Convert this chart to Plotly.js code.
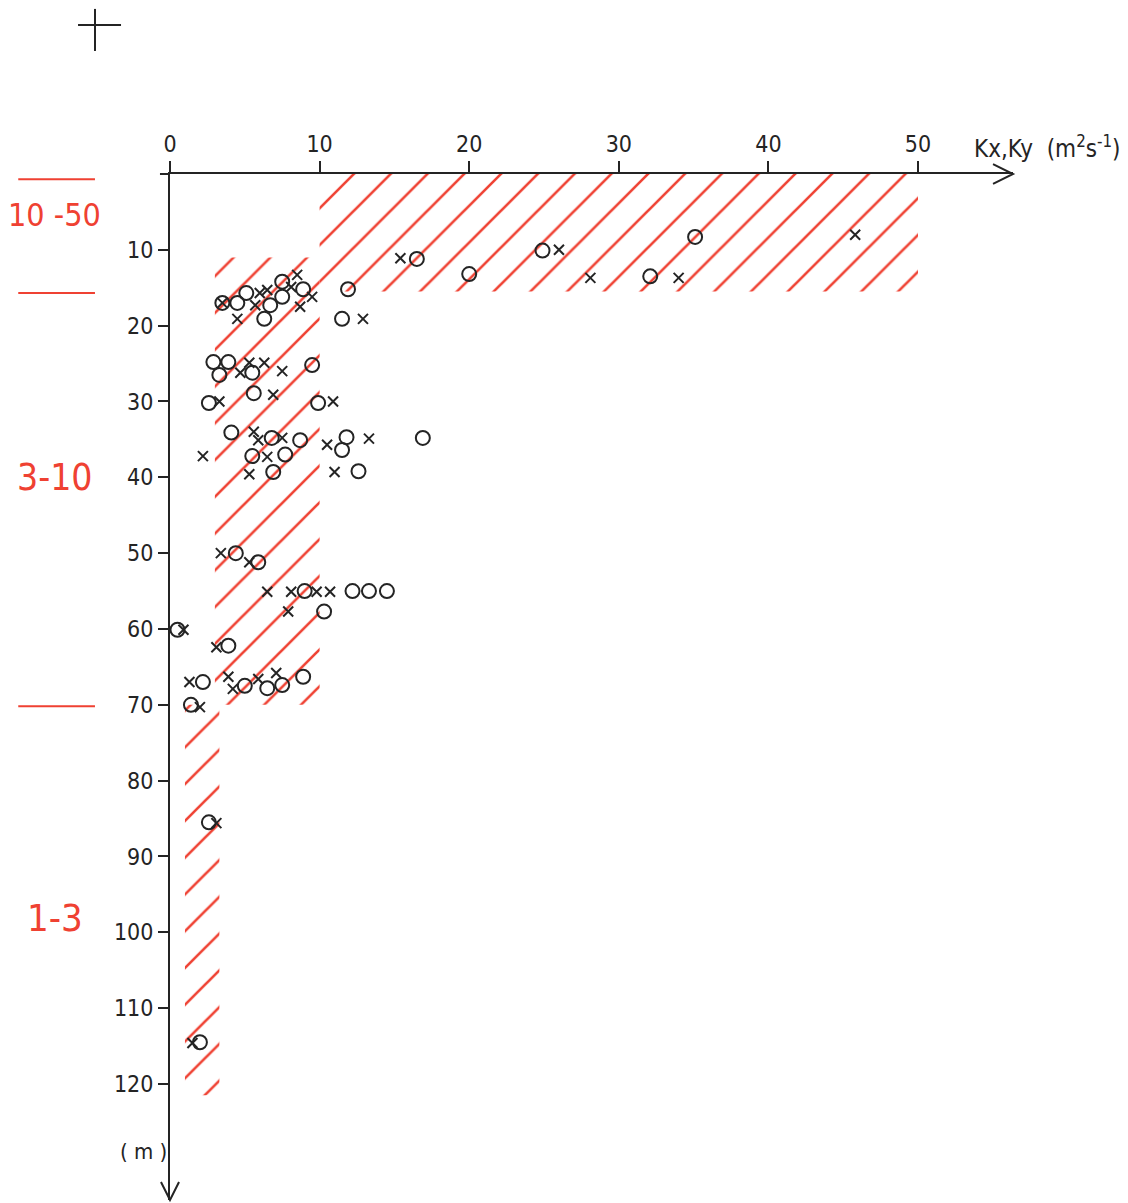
<!DOCTYPE html>
<html><head><meta charset="utf-8">
<script src="https://cdn.plot.ly/plotly-3.0.1.min.js"></script>
<style>body{margin:0;background:#fff}#chart{width:1128px;height:1203px}</style>
</head><body><div id="chart"></div><script>
// ---- data ----
const xTickVals = [0, 10, 20, 30, 40, 50];
const xTickText = ['0', '10', '20', '30', '40', '50'];
const yTickVals = [10, 20, 30, 40, 50, 60, 70, 80, 90, 100, 110, 120];
const yTickText = ['10', '20', '30', '40', '50', '60', '70', '80', '90', '100', '110', '120'];

// open circles
const circleX = [16.5, 20.0, 24.9, 35.1, 32.1,
  3.5, 4.5, 5.1, 6.7, 6.3, 7.5, 7.5, 8.9, 11.9, 11.5,
  2.9, 3.9, 3.3, 5.5, 9.5,
  2.6, 5.6, 9.9,
  4.1, 6.8, 8.7, 11.8, 11.5, 16.9, 5.5, 7.7, 6.9, 12.6,
  4.4, 5.9, 9.0, 12.2, 13.3, 14.5, 10.3,
  0.5, 3.9, 2.2, 5.0, 6.5, 7.5, 8.9, 1.4,
  2.6, 2.0];
const circleY = [11.2, 13.2, 10.1, 8.3, 13.5,
  17.0, 17.0, 15.7, 17.3, 19.1, 14.2, 16.2, 15.2, 15.2, 19.1,
  24.8, 24.8, 26.5, 26.2, 25.2,
  30.2, 28.9, 30.2,
  34.1, 34.8, 35.1, 34.7, 36.4, 34.8, 37.2, 37.0, 39.3, 39.2,
  50.0, 51.2, 55.0, 55.0, 55.0, 55.0, 57.7,
  60.1, 62.2, 67.0, 67.5, 67.8, 67.4, 66.3, 70.0,
  85.5, 114.5];

// crosses
const crossX = [15.4, 26.0, 28.1, 34.0, 45.8,
  3.5, 6.0, 6.5, 5.7, 4.5, 8.5, 8.1, 9.5, 8.7, 12.9,
  4.7, 5.3, 6.3, 7.5,
  3.3, 6.9, 10.9,
  5.6, 5.9, 7.5, 10.5, 13.3, 2.2, 6.5, 5.3, 11.0,
  3.4, 5.3, 6.5, 8.1, 9.8, 10.7, 7.9,
  0.9, 3.1, 1.3, 3.9, 4.2, 5.9, 7.1, 2.0,
  3.1, 1.5];
const crossY = [11.1, 10.0, 13.7, 13.7, 8.0,
  17.0, 15.7, 15.3, 17.3, 19.1, 13.3, 14.9, 16.2, 17.5, 19.1,
  26.2, 24.9, 24.9, 26.0,
  30.0, 29.1, 30.0,
  34.0, 35.1, 34.8, 35.7, 34.9, 37.2, 37.3, 39.6, 39.3,
  50.0, 51.2, 55.1, 55.1, 55.1, 55.1, 57.7,
  60.1, 62.4, 67.0, 66.3, 67.9, 66.6, 65.8, 70.3,
  85.6, 114.6];

// hatched zones (range of K per depth band)
const hatchTopX = [10, 50, 50, 10, 10];
const hatchTopY = [0, 0, 15.5, 15.5, 0];
const hatchMidX = [3, 10, 10, 3, 3];
const hatchMidY = [11, 11, 70, 70, 11];
const hatchLowX = [1, 3.3, 3.3, 1, 1];
const hatchLowY = [70, 70, 121.5, 121.5, 70];

// zone labels on the left
const zoneLabels = ['10 -50', '3-10', '1-3'];
const zoneLabelY = [5.4, 40, 98.1];
const zoneBoundY = [0.7, 15.7, 70.2];

// ---- drawing ----
const Y_MAX = 135.3, X_MAX = 56.35;
const FONT = "'DejaVu Sans Condensed', 'Liberation Sans Narrow', 'Arial Narrow', sans-serif";
const INK = '#242424';
const RED = '#ef4132';
const yP = v => 1 - v / Y_MAX;

function hatch(x, y) {
  return {
    x: x, y: y, type: 'scatter', mode: 'lines', fill: 'toself',
    fillcolor: 'rgba(0,0,0,0)', line: {width: 0, color: 'rgba(0,0,0,0)'},
    fillpattern: {shape: '/', fgcolor: RED, bgcolor: 'rgba(0,0,0,0)', size: 26, solidity: 0.1},
    hoverinfo: 'skip'
  };
}

const traces = [
  hatch(hatchTopX, hatchTopY),
  hatch(hatchMidX, hatchMidY),
  hatch(hatchLowX, hatchLowY),
  {x: circleX, y: circleY, type: 'scatter', mode: 'markers', cliponaxis: false,
   marker: {symbol: 'circle-open', size: 14, color: INK, line: {width: 2, color: INK}}},
  {x: crossX, y: crossY, type: 'scatter', mode: 'markers', cliponaxis: false,
   marker: {symbol: 'x-thin-open', size: 10, color: INK, line: {width: 2, color: INK}}}
];

const shapes = [];
// arrowheads
shapes.push({type: 'path', xref: 'paper', yref: 'paper',
  path: 'M 0.9763 1.0097 L 1 1 L 0.9763 0.9903', line: {color: INK, width: 2}});
shapes.push({type: 'path', xref: 'paper', yref: 'paper',
  path: 'M -0.0107 0.0175 L 0 0 L 0.0107 0.0175', line: {color: INK, width: 2}});
// stub tick at depth 0
shapes.push({type: 'line', xref: 'paper', yref: 'paper', x0: -0.0119, x1: 0, y0: 1, y1: 1, line: {color: INK, width: 2}});
// registration cross
shapes.push({type: 'line', xref: 'paper', yref: 'paper', x0: -0.089, x1: -0.089, y0: 1.1609, y1: 1.1199, line: {color: INK, width: 2}});
shapes.push({type: 'line', xref: 'paper', yref: 'paper', x0: -0.1091, x1: -0.0581, y0: 1.1453, y1: 1.1453, line: {color: INK, width: 2}});
// red zone boundaries
zoneBoundY.forEach(v => shapes.push({type: 'line', xref: 'paper', yref: 'paper',
  x0: -0.180, x1: -0.089, y0: yP(v), y1: yP(v), line: {color: RED, width: 2}}));

const annotations = [];
const zoneSizes = [32, 37, 38];
zoneLabels.forEach((t, i) => annotations.push({text: t, xref: 'paper', yref: 'paper',
  x: -0.137, y: yP(zoneLabelY[i]), showarrow: false, xanchor: 'center', yanchor: 'middle',
  font: {family: FONT, size: zoneSizes[i], color: RED}}));
annotations.push({text: 'Kx,Ky  (m<sup>2</sup>s<sup>-1</sup>)', xref: 'paper', yref: 'paper',
  x: 1.0415, y: 1.0263, showarrow: false, xanchor: 'center', yanchor: 'middle',
  font: {family: FONT, size: 24, color: INK}});
annotations.push({text: '( m )', xref: 'paper', yref: 'paper',
  x: -0.032, y: 0.0468, showarrow: false, xanchor: 'center', yanchor: 'middle',
  font: {family: FONT, size: 22, color: INK}});

const axisCommon = {
  showline: true, linecolor: INK, linewidth: 2, ticks: 'outside', ticklen: 11, tickwidth: 2,
  tickcolor: INK, showgrid: false, zeroline: false, fixedrange: true,
  tickfont: {family: FONT, size: 23, color: INK}
};

const layout = {
  width: 1128, height: 1203,
  margin: {l: 170, r: 115, t: 174, b: 3, pad: 0},
  paper_bgcolor: '#ffffff', plot_bgcolor: '#ffffff',
  showlegend: false,
  xaxis: Object.assign({}, axisCommon, {range: [0, X_MAX], side: 'top',
    tickmode: 'array', tickvals: xTickVals, ticktext: xTickText}),
  yaxis: Object.assign({}, axisCommon, {range: [Y_MAX, 0], ticklen: 10,
    tickmode: 'array', tickvals: yTickVals, ticktext: yTickText}),
  shapes: shapes, annotations: annotations
};

Plotly.newPlot('chart', traces, layout, {staticPlot: true, displayModeBar: false});
</script></body></html>
